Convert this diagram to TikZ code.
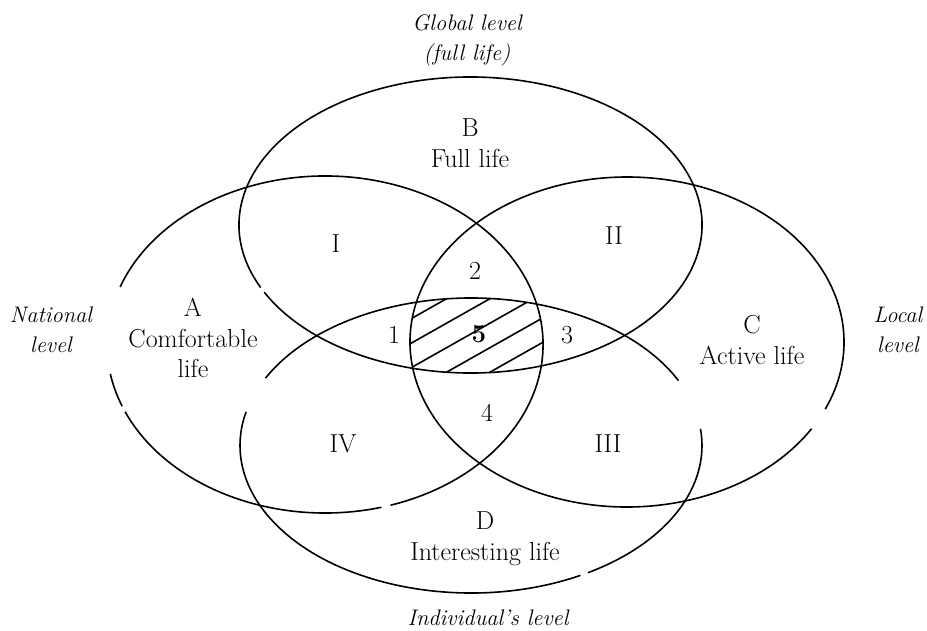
\documentclass[tikz,border=0pt]{standalone}
\usetikzlibrary{calc}
\newcommand{\vennarc}[5]{\draw[venn,shift={(#1)}] (#4:#2 and #3) arc[start angle=#4,end angle=#5,x radius=#2,y radius=#3];}
\begin{document}
\begin{tikzpicture}[x=1pt,y=-1pt,
  venn/.style={line width=1.6pt},
  hatchline/.style={line width=1.6pt},
  lab/.style={font=\fontsize{26}{30.5}\selectfont, align=center, inner sep=0pt},
  lvl/.style={font=\fontsize{22.5}{30}\selectfont\itshape, align=center, inner sep=0pt}]
\useasboundingbox (0,0) rectangle (927,630);
\coordinate (cA) at (325,344.5);
\coordinate (cB) at (470.5,225);
\coordinate (cC) at (627,342);
\coordinate (cD) at (471,445.5);
% ellipse A (left)
\vennarc{cA}{218}{168.5}{75}{156.5}
\vennarc{cA}{218}{168.5}{158.5}{170}
\vennarc{cA}{218}{168.5}{200}{432.5}
% ellipse B (top)
\vennarc{cB}{231.5}{148}{155}{513}
% ellipse C (right)
\vennarc{cC}{217}{165}{31.7}{384}
% ellipse D (bottom)
\vennarc{cD}{231}{147.5}{-6.5}{59.6}
\vennarc{cD}{231}{147.5}{61.7}{193.2}
\vennarc{cD}{231}{147.5}{207.2}{333.9}
% hatched core
\begin{scope}
\clip (cA) ellipse[x radius=218,y radius=168.5];
\clip (cB) ellipse[x radius=231.5,y radius=148];
\clip (cC) ellipse[x radius=217,y radius=165];
\clip (cD) ellipse[x radius=231,y radius=147.5];
\foreach \c in {551,575.5,600,624.5,649}
  \draw[hatchline] (380,\c-214.7) -- (560,\c-316.4);
\end{scope}
% labels
\node[lvl] (glob) at (467,40) {Global level\\(full life)};
\node[lvl] (nat) at (51,330) {National\\level};
\node[lvl] (loc) at (898,330) {Local\\level};
\node[lvl] (ind) at (488,618) {Individual's level};
\node[lab] (labB) at (470,143) {B\\Full life};
\node[lab] (labA) at (193,338) {A\\Comfortable\\life};
\node[lab] (labC) at (752,340) {C\\Active life};
\node[lab] (labD) at (485,539) {D\\Interesting life};
\node[lab] (rI) at (336,244) {I};
\node[lab] (rII) at (614,236) {II};
\node[lab] (rIII) at (608,444) {III};
\node[lab] (rIV) at (343,444) {IV};
\node[lab] (n1) at (394,335) {1};
\node[lab] (n2) at (475,271) {2};
\node[lab] (n3) at (567,335) {3};
\node[lab] (n4) at (487,413) {4};
\node[lab] (n5) at (479,334) {\bfseries 5};
\end{tikzpicture}
\end{document}
